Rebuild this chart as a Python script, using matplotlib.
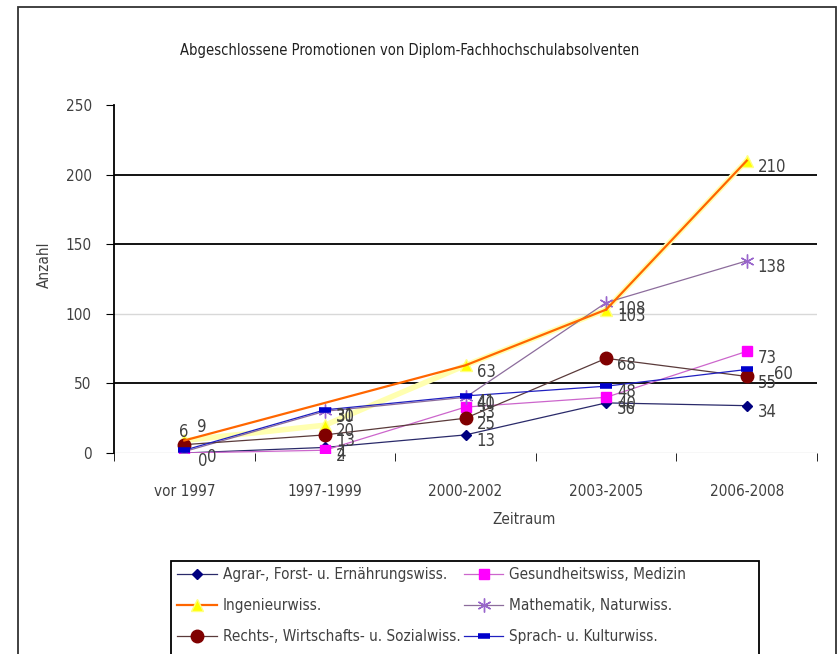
import numpy as np
import matplotlib
matplotlib.use("Agg")
import matplotlib.pyplot as plt
from matplotlib.lines import Line2D
from matplotlib.patches import Rectangle

plt.rcParams['font.family'] = ['DejaVu Sans']
plt.rcParams['font.stretch'] = 'condensed'

zeitraum = ["vor 1997", "1997-1999", "2000-2002", "2003-2005", "2006-2008"]
agrar = [0, 4, 13, 36, 34]
gesundheit = [0, 2, 33, 40, 73]
ingenieur = [9, 20, 63, 103, 210]
mathematik = [1, 30, 40, 108, 138]
rechts = [6, 13, 25, 68, 55]
sprach = [2, 31, 41, 48, 60]

namen = ["Agrar-, Forst- u. Ernährungswiss.", "Gesundheitswiss, Medizin",
         "Ingenieurwiss.", "Mathematik, Naturwiss.",
         "Rechts-, Wirtschafts- u. Sozialwiss.", "Sprach- u. Kulturwiss."]

x = np.arange(len(zeitraum))
txt = "#404040"

fig = plt.figure(figsize=(8.39, 6.54), dpi=100)
ax = fig.add_axes([114/839, 1-453/654, (817-114)/839, (453-105)/654])

# grid lines: some black, some faint like in the scan
for v, c, lw in [(0, "#d8d8d8", 1.0), (50, "black", 1.3), (100, "#d8d8d8", 1.0),
                 (150, "black", 1.3), (200, "black", 1.3)]:
    ax.axhline(v, color=c, lw=lw, zorder=0)

l_agrar, = ax.plot(x, agrar, color="#2a2a6a", lw=0.9, marker="D", ms=5.5,
                   mfc="#000080", mec="#000080", zorder=3)
l_ges, = ax.plot(x, gesundheit, color="#cc66cc", lw=0.9, marker="s", ms=6.5,
                 mfc="#ff00ff", mec="#ff00ff", zorder=3)
ax.plot(x, ingenieur, color="#ffffb0", lw=4, marker="^", ms=9,
        mfc="#ffff00", mec="#ffff80", zorder=2)
idx = [0, 2, 3, 4]
ax.plot(x[idx], np.array(ingenieur)[idx], color="#ff6600", lw=1.6, zorder=4)
l_math, = ax.plot(x, mathematik, color="#8c6c9c", lw=0.9, marker=(6, 2, 0), ms=10,
                  mec="#9966cc", mew=1.0, zorder=3)
l_rechts, = ax.plot(x, rechts, color="#5a3a3a", lw=0.9, marker="o", ms=9,
                    mfc="#800000", mec="#800000", zorder=3)
l_sprach, = ax.plot(x, sprach, color="#2020c0", lw=0.9, marker="_", ms=8, mew=4,
                    mec="#0000cc", zorder=3)

# label offsets (points); the first column is placed around the cluster
spezial = {(0, 0): (10, -6), (1, 0): (16, -3), (2, 0): (9, 10),
           (3, 0): (5, 3), (4, 0): (-4, 9), (5, 0): (5, 3), (5, 4): (20, -3)}
for si, serie in enumerate([agrar, gesundheit, ingenieur, mathematik, rechts, sprach]):
    for xi, v in zip(x, serie):
        off = spezial.get((si, xi), (8, -4.5))
        if si in (3, 5) and xi == 0:
            continue
        ax.annotate(str(v), (xi, v), xytext=off, textcoords="offset points",
                    ha="left", va="center", fontsize=12, color=txt, zorder=5)

ax.set_xlim(-0.5, 4.5)
ax.set_ylim(0, 250)
ax.set_yticks([0, 50, 100, 150, 200, 250])
ax.set_xticks(x)
ax.set_xticklabels(zeitraum, fontsize=11, color=txt)
ax.set_xticks(np.arange(-0.5, 5, 1), minor=True)
ax.tick_params(axis="x", which="major", length=0, pad=22)
ax.tick_params(axis="x", which="minor", length=6, color="black", direction="out")
ax.tick_params(axis="y", length=6, color="black", labelsize=11, labelcolor=txt, pad=10)
for s in ["top", "right", "bottom"]:
    ax.spines[s].set_visible(False)
ax.spines["left"].set_linewidth(1.3)
ax.set_xlabel("Zeitraum", fontsize=11, color=txt)
ax.xaxis.set_label_coords(0.583, -0.17)
ax.set_ylabel("Anzahl", fontsize=11, color=txt)
ax.yaxis.set_label_coords(-0.088, 0.54)

fig.text(410/839, 1-50/654, "Abgeschlossene Promotionen von Diplom-Fachhochschulabsolventen",
         ha="center", va="center", fontsize=10.5, color="#202020")

h_ing = Line2D([], [], color="#ff6600", lw=1.6, marker="^", ms=9,
               mfc="#ffff00", mec="#ffff80")
fig.legend([l_agrar, h_ing, l_rechts, l_ges, l_math, l_sprach],
           [namen[0], namen[2], namen[4], namen[1], namen[3], namen[5]],
           ncol=2, loc="upper left", bbox_to_anchor=(177/839, 1-567/654),
           frameon=False, fontsize=11, labelspacing=1.05, handlelength=2.6,
           handletextpad=0.4, columnspacing=0.2, borderaxespad=0, borderpad=0,
           labelcolor=txt)
fig.add_artist(Rectangle((171/839, -0.05), (759-171)/839, (1-561/654)+0.05,
                         transform=fig.transFigure, fill=False, lw=1.3, ec="black"))
fig.add_artist(Rectangle((18/839, -0.05), (836-18)/839, (1-7/654)+0.05,
                         transform=fig.transFigure, fill=False, lw=1.3, ec="#333333"))

fig.savefig("out.png", dpi=100)
